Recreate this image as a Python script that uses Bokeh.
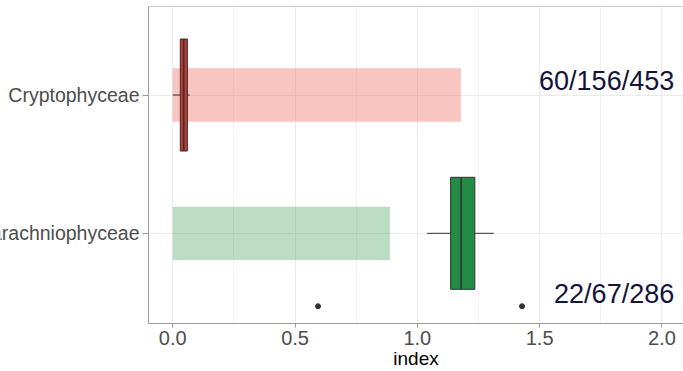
from bokeh.plotting import figure
from bokeh.layouts import row
from bokeh.models import Range1d, FixedTicker, PrintfTickFormatter, Span, ColumnDataSource
from bokeh.core.properties import value
from bokeh.embed import file_html
from bokeh.resources import INLINE

# ---- data ----
classes = ["Chlorarachniophyceae", "Cryptophyceae"]   # y positions 1, 2
bar_len = [0.888, 1.178]
bar_colors = ["#228B3C", "#F06E64"]
bar_alpha = [0.30, 0.40]
q1 = [1.136, 0.031]
med = [1.179, 0.045]
q3 = [1.235, 0.060]
wlo = [1.040, 0.000]
whi = [1.312, 0.070]
box_colors = ["#228B45", "#C4372C"]
outlier_x = [0.594, 1.428]
outlier_y = [0.473, 0.473]
count_labels = ["22/67/286", "60/156/453"]
count_y = [0.558, 2.103]
x_ticks = [0.0, 0.5, 1.0, 1.5, 2.0]
x_minor = [0.25, 0.75, 1.25, 1.75]

ypos = [1, 2]
BAR_H = 0.386
BOX_H = 0.81
FONT = "Liberation Sans"
H = 371
TOP = 6
LEFT_W = 142

yr = Range1d(0.348, 2.640)


def style_xaxis(ax, hidden=False):
    ax.ticker = FixedTicker(ticks=x_ticks)
    ax.formatter = PrintfTickFormatter(format="%.1f")
    ax.axis_label = "index"
    ax.major_tick_out = 4
    ax.major_tick_in = 0
    ax.minor_tick_line_color = None
    ax.major_label_text_font = FONT
    ax.major_label_text_font_size = "20px"
    ax.major_label_standoff = 3
    ax.axis_label_text_font = FONT
    ax.axis_label_text_font_size = "19px"
    ax.axis_label_text_font_style = "normal"
    ax.axis_label_standoff = 0
    if hidden:
        ax.axis_line_color = None
        ax.major_tick_line_color = None
        ax.major_label_text_alpha = 0
        ax.axis_label_text_alpha = 0
    else:
        ax.axis_line_color = "#999999"
        ax.major_tick_line_color = "#999999"
        ax.major_label_text_color = "#4D4D4D"
        ax.axis_label_text_color = "black"


# ---- left strip holding the category labels (clipped like the reference) ----
lab = figure(width=LEFT_W, height=H, output_backend="svg", toolbar_location=None,
             x_range=Range1d(0, LEFT_W), y_range=yr, y_axis_location=None,
             min_border_left=0, min_border_right=0, min_border_top=TOP, min_border_bottom=0)
lab.outline_line_color = None
lab.grid.visible = False
style_xaxis(lab.xaxis[0], hidden=True)
lab.text(x=[LEFT_W - 3] * 2, y=ypos, text=classes, text_align="right", text_baseline="middle",
         text_font=value(FONT), text_font_size="19.5px", text_color="#4D4D4D")

# ---- main panel ----
p = figure(width=683 - LEFT_W, height=H, output_backend="svg", toolbar_location=None,
           x_range=Range1d(-0.099, 2.088), y_range=yr,
           min_border_left=0, min_border_right=0, min_border_top=TOP, min_border_bottom=0)
p.outline_line_color = None

p.xgrid.ticker = FixedTicker(ticks=x_ticks, minor_ticks=x_minor)
p.xgrid.grid_line_color = "#EBEBEB"
p.xgrid.minor_grid_line_color = "#F3F3F3"
p.ygrid.ticker = FixedTicker(ticks=ypos)
p.ygrid.grid_line_color = "#EBEBEB"

src_bar = ColumnDataSource(dict(y=ypos, right=bar_len, left=[0, 0], c=bar_colors, a=bar_alpha))
p.hbar(y="y", left="left", right="right", height=BAR_H, fill_color="c", fill_alpha="a",
       line_color=None, source=src_bar)

p.segment(x0=wlo, y0=ypos, x1=whi, y1=ypos, line_color="#333333", line_width=1)
src_box = ColumnDataSource(dict(y=ypos, left=q1, right=q3, c=box_colors))
p.hbar(y="y", left="left", right="right", height=BOX_H, fill_color="c",
       line_color="#333333", line_width=1, source=src_box)
p.segment(x0=med, y0=[y - BOX_H / 2 for y in ypos], x1=med, y1=[y + BOX_H / 2 for y in ypos],
          line_color="#333333", line_width=1.6)
p.scatter(x=outlier_x, y=outlier_y, size=5, color="#333333")

p.text(x=[2.05, 2.05], y=count_y, text=count_labels, text_align="right",
       text_baseline="alphabetic", text_font_size="27px", text_color="#14143C",
       text_font=value(FONT))

style_xaxis(p.xaxis[0])
p.yaxis.ticker = FixedTicker(ticks=ypos)
p.yaxis.major_label_overrides = {1: "", 2: ""}
p.yaxis.major_label_standoff = 0
p.yaxis.axis_line_color = "#999999"
p.yaxis.major_tick_line_color = "#999999"
p.yaxis.major_tick_out = 6
p.yaxis.major_tick_in = 0
p.yaxis.minor_tick_line_color = None

p.add_layout(Span(location=2.640, dimension="width", line_color="#999999", line_width=1))

layout = row(lab, p, spacing=0)
open("out.html", "w").write(file_html(layout, INLINE))
